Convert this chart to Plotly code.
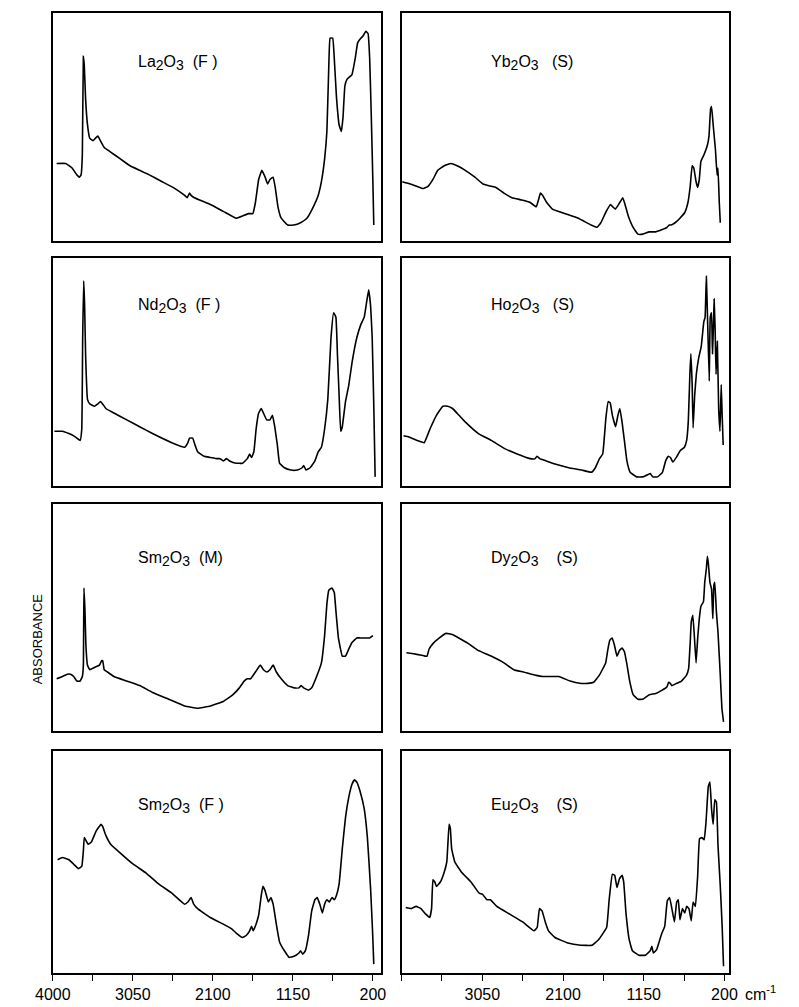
import plotly.graph_objects as go

# ---------------- data (wavenumber cm-1, absorbance in arbitrary units 0-100) ----------------
la_f_wn = [3954, 3847, 3771, 3714, 3683, 3664, 3649, 3637, 3626, 3610, 3588, 3561, 3523, 3496, 3465, 3435, 3389, 3313, 3198, 3083, 2969, 2912, 2854, 2702, 2549, 2434, 2404, 2377, 2358, 2320, 2129, 1976, 1823, 1747, 1678, 1651, 1625, 1594, 1556, 1518, 1479, 1449, 1422, 1384, 1357, 1327, 1288, 1212, 1136, 1059, 983, 907, 849, 811, 773, 746, 723, 708, 677, 658, 632, 601, 574, 555, 532, 506, 448, 410, 380, 341, 315, 284, 257, 238, 219, 200, 189]
la_f_abs = [34, 34, 32, 29, 28, 29, 38, 81, 77, 62, 51, 45, 44, 45, 46, 44, 41, 39, 36, 33, 31, 30, 29, 26, 23, 20, 19, 21, 20, 19, 16, 13, 10, 11, 12, 12, 12, 17, 27, 31, 28, 25, 27, 28, 23, 15, 10, 7, 7, 8, 10, 15, 20, 26, 36, 48, 77, 89, 89, 80, 63, 51, 48, 54, 68, 71, 73, 80, 87, 89, 90, 92, 91, 80, 55, 26, 7]

nd_f_wn = [3981, 3885, 3809, 3752, 3714, 3675, 3656, 3645, 3633, 3622, 3610, 3588, 3561, 3504, 3465, 3435, 3408, 3370, 3274, 3122, 2969, 2816, 2587, 2434, 2396, 2377, 2339, 2312, 2281, 2205, 2129, 2052, 2014, 1976, 1938, 1900, 1823, 1747, 1690, 1663, 1640, 1613, 1586, 1556, 1525, 1499, 1460, 1422, 1392, 1365, 1334, 1308, 1250, 1174, 1098, 1040, 1021, 994, 945, 888, 849, 811, 773, 735, 697, 666, 639, 620, 601, 582, 563, 525, 487, 448, 391, 341, 303, 277, 250, 227, 208, 189, 173]
nd_f_abs = [24, 24, 23, 22, 21, 20, 25, 65, 90, 79, 57, 38, 36, 35, 36, 37, 36, 34, 32, 29, 26, 23, 19, 17, 19, 21, 21, 18, 15, 13, 12.5, 12, 12, 11, 12, 11, 10, 10, 12, 14, 12.5, 15, 25, 32, 34, 32, 29, 29, 31, 26, 18, 10, 8, 7, 7, 8, 9, 7, 8, 11, 15, 17, 25, 38, 65, 76, 74, 57, 40, 24, 26, 37, 44, 54, 65, 71, 74, 80, 86, 79, 65, 35, 4]

sm_m_wn = [3954, 3885, 3828, 3790, 3752, 3714, 3675, 3649, 3637, 3630, 3618, 3607, 3588, 3561, 3504, 3446, 3420, 3408, 3389, 3351, 3274, 3122, 2969, 2816, 2625, 2434, 2281, 2129, 1976, 1861, 1785, 1728, 1690, 1651, 1594, 1537, 1499, 1460, 1422, 1384, 1346, 1288, 1212, 1136, 1078, 1052, 1021, 964, 926, 868, 811, 773, 746, 723, 685, 658, 639, 609, 563, 525, 487, 448, 391, 353, 296, 238, 200]
sm_m_abs = [23, 24, 25, 25, 24, 22, 22, 24, 29, 63, 53, 38, 29, 27, 28, 29, 31, 31, 27, 26, 24, 22, 20, 17, 14, 11, 10, 11, 13, 16, 19, 22, 23, 23, 26, 29, 27, 26, 27, 29, 26, 23, 20, 19, 19, 20, 19, 18, 19, 24, 30, 42, 56, 62, 63, 61, 53, 41, 33, 33, 36, 39, 41, 41, 41, 41, 42]

sm_f_wn = [3943, 3885, 3809, 3752, 3694, 3656, 3637, 3626, 3610, 3580, 3542, 3484, 3427, 3408, 3370, 3313, 3198, 3045, 2892, 2740, 2587, 2434, 2396, 2358, 2327, 2281, 2129, 1976, 1880, 1823, 1747, 1701, 1663, 1640, 1621, 1587, 1556, 1525, 1506, 1479, 1441, 1411, 1384, 1346, 1308, 1250, 1193, 1136, 1078, 1059, 1033, 1002, 964, 926, 888, 861, 830, 800, 773, 746, 716, 685, 658, 632, 601, 563, 525, 487, 448, 418, 391, 353, 303, 265, 227, 204, 189]
sm_f_abs = [51, 52, 51, 49, 47, 48, 55, 61, 60, 58, 59, 64, 67, 66, 62, 58, 54, 49, 45, 40, 36, 31, 32, 34, 31, 29, 25, 22, 20, 18, 16, 17, 19, 21, 19, 22, 26, 35, 39, 37, 32, 34, 31, 22, 14, 10, 7, 7.5, 9, 10, 8.5, 10, 17, 28, 33, 34, 31, 27, 31, 33, 32, 34, 33, 35, 40, 56, 70, 79, 85, 87, 86, 82, 74, 61, 38, 19, 4]

yb_s_wn = [3992, 3897, 3821, 3745, 3688, 3631, 3574, 3498, 3422, 3346, 3251, 3137, 3042, 2947, 2890, 2795, 2700, 2586, 2491, 2415, 2389, 2366, 2339, 2294, 2225, 2073, 1921, 1769, 1701, 1655, 1598, 1541, 1515, 1484, 1446, 1397, 1370, 1332, 1275, 1218, 1161, 1085, 1009, 933, 876, 850, 827, 781, 724, 667, 629, 603, 580, 561, 534, 515, 496, 477, 439, 401, 382, 363, 352, 333, 306, 287, 276, 261, 249]
yb_s_abs = [26, 25, 24, 23, 24, 27, 31, 33, 34, 33, 31, 28, 25, 24, 23.5, 21, 19, 18, 17, 15, 18, 21, 20, 17, 14, 12, 10, 7, 6, 8, 12.5, 16, 15, 14, 16, 19, 16, 11, 6, 3, 3, 4, 4, 5, 6, 7, 7, 8, 10, 12.5, 17, 24, 33, 32, 26, 23.5, 27, 35, 38, 42, 46, 58, 59, 51, 40, 29, 32, 17, 8]

ho_s_wn = [3977, 3913, 3818, 3734, 3666, 3590, 3514, 3457, 3400, 3324, 3248, 3096, 2944, 2792, 2640, 2488, 2431, 2404, 2374, 2298, 2184, 2032, 1880, 1766, 1720, 1671, 1633, 1595, 1568, 1545, 1519, 1481, 1454, 1431, 1405, 1378, 1348, 1310, 1234, 1158, 1101, 1074, 1044, 987, 930, 892, 861, 835, 808, 759, 721, 671, 645, 626, 607, 595, 580, 569, 550, 531, 504, 474, 443, 428, 413, 398, 379, 367, 352, 341, 329, 322, 310, 299, 284, 268, 253, 238, 227, 215]
ho_s_abs = [22, 21.5, 20, 19, 25, 31, 35, 35, 34, 31, 28, 23, 20, 16.5, 14, 12, 12, 13, 12, 11, 9.5, 8, 7, 6, 8, 12, 14, 30, 37, 36.5, 31, 26, 31, 34, 28, 20, 11, 6, 4, 4, 5, 5.5, 4, 4, 6, 11, 13, 12.5, 10.5, 13, 15.5, 17, 20, 28, 49, 58, 44.5, 25.5, 40, 49, 56, 61, 72, 74, 92, 72, 46, 74, 76, 58, 71, 82, 69, 49, 63.5, 34, 24, 44.5, 31, 18]

dy_s_wn = [3943, 3859, 3783, 3726, 3700, 3677, 3631, 3555, 3479, 3403, 3327, 3213, 3099, 2947, 2795, 2681, 2567, 2415, 2339, 2263, 2149, 2016, 1902, 1807, 1739, 1674, 1598, 1572, 1549, 1522, 1496, 1465, 1435, 1405, 1378, 1351, 1313, 1275, 1218, 1161, 1085, 1009, 933, 876, 857, 838, 819, 762, 705, 648, 622, 603, 591, 572, 553, 534, 515, 496, 477, 447, 432, 413, 401, 390, 371, 352, 337, 325, 314, 295, 276, 249, 230, 211]
dy_s_abs = [34.5, 34, 33.5, 33, 33, 36, 38.5, 41, 43, 42.5, 41, 38.5, 35.5, 33, 30, 27, 26, 24.5, 24, 24, 24, 22, 21, 21, 21.5, 24.5, 30, 36, 40, 41, 38, 33, 35.5, 36.5, 35, 30, 21.5, 16, 14, 14, 16, 16.5, 18, 19.5, 21.5, 21, 20, 21, 22, 24.5, 27.5, 39, 48, 51, 41, 30, 41, 49.5, 55, 57, 65.5, 71.5, 77, 74, 65.5, 62.5, 49.5, 64, 65.5, 52.5, 43.5, 24.5, 10, 4]

eu_s_wn = [3951, 3886, 3829, 3772, 3715, 3669, 3647, 3631, 3609, 3590, 3544, 3506, 3468, 3441, 3426, 3411, 3373, 3297, 3183, 3088, 3050, 2993, 2955, 2879, 2727, 2575, 2442, 2404, 2377, 2347, 2309, 2271, 2195, 2043, 1891, 1758, 1682, 1587, 1557, 1519, 1492, 1465, 1435, 1405, 1386, 1359, 1321, 1283, 1207, 1131, 1074, 1055, 1036, 998, 941, 903, 873, 846, 819, 789, 762, 743, 724, 694, 667, 645, 618, 591, 569, 542, 515, 493, 466, 439, 417, 390, 371, 352, 333, 314, 295, 276, 249, 227, 211]
eu_s_abs = [29.5, 29, 30, 29, 26.5, 25, 29, 42, 41, 39, 41, 44.5, 50, 67, 65, 56, 50, 45.5, 41, 36, 35.5, 33, 33, 30, 26.5, 23, 19, 20.5, 29, 28, 23, 19, 16, 13.5, 12.5, 12.5, 15, 20.5, 33, 44.5, 44, 38.5, 42.5, 44, 41, 27, 15, 10, 8, 8, 10, 12, 9, 10.5, 17.5, 21, 32.5, 34, 29, 23, 32, 33, 24, 29, 27, 30, 29, 23.5, 32, 30, 44, 60.5, 61, 60, 68, 84, 86, 74, 67, 78, 77, 57.5, 39, 21, 3]

# panel labels: element symbol, gap, sample type
label_elems = ["La", "Yb", "Nd", "Ho", "Sm", "Dy", "Sm", "Eu"]
label_types = ["(F )", "(S)", "(F )", "(S)", "(M)", "(S)", "(F )", "(S)"]
label_gaps = [" ", "  ", " ", "  ", " ", "   ", " ", "   "]

series = [
    (la_f_wn, la_f_abs), (yb_s_wn, yb_s_abs),
    (nd_f_wn, nd_f_abs), (ho_s_wn, ho_s_abs),
    (sm_m_wn, sm_m_abs), (dy_s_wn, dy_s_abs),
    (sm_f_wn, sm_f_abs), (eu_s_wn, eu_s_abs),
]
major_ticks_left = [4000, 3050, 2100, 1150, 200]
major_ticks_right = [3050, 2100, 1150, 200]
minor_ticks = [4000, 3525, 2575, 1625, 675]

# ---------------- layout ----------------
W, H = 799, 1007
col_px = [(36, 376), (397, 736)]
row_px = [(13, 241), (258, 486), (504, 731), (751, 973)]
x_ranges = [[4000, 100], [4000, 145]]
label_top_px = [51, 294, 547, 794]
label_left_px = [122, 487]

MAINSZ = 16
SUBSZ = 14


def sub(d):
    return f"<sub><span style='font-size:{SUBSZ}px'>{d}</span></sub>"


fig = go.Figure()
layout = dict(
    width=W, height=H, margin=dict(l=0, r=0, t=0, b=0),
    paper_bgcolor="white", plot_bgcolor="white", showlegend=False,
    font=dict(family="Liberation Sans, Arial, sans-serif", color="black"),
)
annotations = []
for i, (wn, ab) in enumerate(series):
    r, c = divmod(i, 2)
    n = i + 1
    xa = "xaxis" if n == 1 else f"xaxis{n}"
    ya = "yaxis" if n == 1 else f"yaxis{n}"
    xr = "x" if n == 1 else f"x{n}"
    yr = "y" if n == 1 else f"y{n}"
    fig.add_trace(go.Scatter(x=wn, y=ab, mode="lines", xaxis=xr, yaxis=yr,
                             line=dict(color="black", width=1.6, shape="spline", smoothing=0.3),
                             hoverinfo="skip"))
    x0, x1 = col_px[c]
    y0, y1 = row_px[r]
    bottom = (r == 3)
    ax = dict(
        domain=[x0 / W, x1 / W], range=x_ranges[c], anchor=yr,
        showline=True, mirror=True, linecolor="black", linewidth=1.6,
        showgrid=False, zeroline=False,
    )
    if bottom:
        major = major_ticks_left if c == 0 else major_ticks_right
        ax.update(
            ticks="outside", ticklen=6, tickwidth=1.4, tickcolor="black",
            tickmode="array", tickvals=major, ticktext=[str(v) for v in major],
            showticklabels=True, tickfont=dict(size=16, color="black"),
            minor=dict(ticks="outside", tickmode="array", tickvals=minor_ticks,
                       ticklen=6, tickwidth=1.4, tickcolor="black", showgrid=False),
        )
    else:
        ax.update(ticks="", showticklabels=False)
    layout[xa] = ax
    layout[ya] = dict(
        domain=[1 - y1 / H, 1 - y0 / H], range=[0, 100], anchor=xr,
        showline=True, mirror=True, linecolor="black", linewidth=1.6,
        showgrid=False, zeroline=False, showticklabels=False, ticks="",
    )
    text = f"{label_elems[i]}{sub(2)}O{sub(3)} {label_gaps[i]}{label_types[i]}"
    annotations.append(dict(
        text=text, xref="paper", yref="paper",
        x=label_left_px[c] / W, y=1 - label_top_px[r] / H, xanchor="left", yanchor="top",
        showarrow=False, font=dict(size=MAINSZ, color="black"),
    ))

annotations.append(dict(
    text="ABSORBANCE", xref="paper", yref="paper", x=20 / W, y=1 - 639 / H,
    xanchor="center", yanchor="middle", textangle=-90, showarrow=False,
    font=dict(size=13, color="black"),
))
annotations.append(dict(
    text="cm<sup>-1</sup>", xref="paper", yref="paper", x=750 / W, y=1 - 993 / H,
    xanchor="left", yanchor="middle", showarrow=False,
    font=dict(size=16, color="black"),
))
layout["annotations"] = annotations
fig.update_layout(**layout)

fig.write_html("out.html")
